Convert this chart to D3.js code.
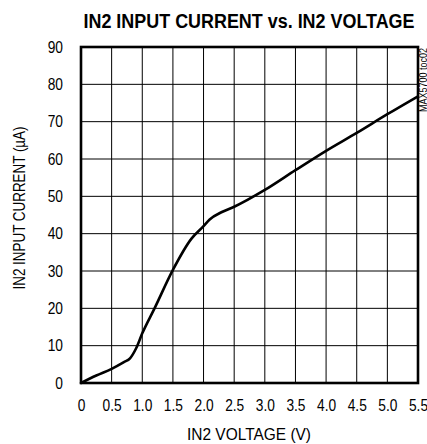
<!DOCTYPE html>
<html><head><meta charset="utf-8">
<script src="https://cdn.jsdelivr.net/npm/d3@7"></script>
<style>
html,body{margin:0;padding:0;background:#fff;}
svg{display:block;}
text{font-family:"Liberation Sans Narrow","Arial Narrow","Liberation Sans",Arial,sans-serif;fill:#000;}
</style></head>
<body>
<script>
const voltage = [0, 0.25, 0.5, 0.7, 0.8, 0.9, 1.0, 1.2, 1.5, 1.8, 2.0, 2.1, 2.3, 2.5, 3.0, 3.5, 4.0, 4.5, 5.0, 5.5];
const current = [0, 2.0, 3.8, 5.6, 6.6, 9.3, 13.3, 20.0, 30.3, 38.6, 42.0, 43.8, 45.8, 47.2, 51.7, 57.0, 62.2, 67.0, 72.0, 76.8];
const xTicks = [0, 0.5, 1.0, 1.5, 2.0, 2.5, 3.0, 3.5, 4.0, 4.5, 5.0, 5.5];
const xTickLabels = ["0", "0.5", "1.0", "1.5", "2.0", "2.5", "3.0", "3.5", "4.0", "4.5", "5.0", "5.5"];
const yTicks = [0, 10, 20, 30, 40, 50, 60, 70, 80, 90];
const title = "IN2 INPUT CURRENT vs. IN2 VOLTAGE";
const xTitle = "IN2 VOLTAGE (V)";
const yTitle = "IN2 INPUT CURRENT (\u00B5A)";
const tocLabel = "MAX5700 toc02";

const W = 427, H = 444;
const m = {left: 81, right: 9, top: 47, bottom: 61};
const svg = d3.select("body").append("svg").attr("width", W).attr("height", H);

const x = d3.scaleLinear().domain([0, 5.5]).range([m.left, W - m.right]);
const y = d3.scaleLinear().domain([0, 90]).range([H - m.bottom, m.top]);

// grid
const g = svg.append("g");
g.selectAll("line.vx").data(xTicks.slice(1, -1)).join("line")
  .attr("x1", d => x(d)).attr("x2", d => x(d))
  .attr("y1", y(0)).attr("y2", y(90))
  .attr("stroke", "#000").attr("stroke-width", 1);
g.selectAll("line.hy").data(yTicks.slice(1, -1)).join("line")
  .attr("x1", x(0)).attr("x2", x(5.5))
  .attr("y1", d => y(d)).attr("y2", d => y(d))
  .attr("stroke", "#000").attr("stroke-width", 1);

// curve
const data = voltage.map((v, i) => [v, current[i]]);
svg.append("path").datum(data)
  .attr("fill", "none").attr("stroke", "#000").attr("stroke-width", 2.6)
  .attr("stroke-linejoin", "round").attr("stroke-linecap", "round")
  .attr("d", d3.line().x(d => x(d[0])).y(d => y(d[1])).curve(d3.curveMonotoneX));

// border
svg.append("rect").attr("x", x(0)).attr("y", y(90))
  .attr("width", x(5.5) - x(0)).attr("height", y(0) - y(90))
  .attr("fill", "none").attr("stroke", "#000").attr("stroke-width", 2.6);

// axes labels
const xAxis = d3.axisBottom(x).tickValues(xTicks).tickSize(0).tickPadding(17)
  .tickFormat((d, i) => xTickLabels[i]);
const xa = svg.append("g").attr("transform", `translate(0,${y(0)})`).call(xAxis);
xa.select(".domain").remove();
xa.selectAll("text").attr("font-size", 16).style("font-family", null)
  .attr("transform", "scale(0.86,1)");

const yAxis = d3.axisLeft(y).tickValues(yTicks).tickSize(0).tickPadding(21)
  .tickFormat(d3.format("d"));
const ya = svg.append("g").attr("transform", `translate(${x(0)},0)`).call(yAxis);
ya.select(".domain").remove();
ya.selectAll("text").attr("font-size", 16).style("font-family", null)
  .attr("transform", "scale(0.86,1)");

svg.append("text").attr("x", 249).attr("y", 28).attr("text-anchor", "middle")
  .attr("font-size", 20).attr("font-weight", "bold")
  .attr("textLength", 331).attr("lengthAdjust", "spacingAndGlyphs").text(title);
svg.append("text").attr("x", 249).attr("y", 440).attr("text-anchor", "middle")
  .attr("font-size", 16.5)
  .attr("textLength", 124).attr("lengthAdjust", "spacingAndGlyphs").text(xTitle);
svg.append("text").attr("transform", `translate(25,${208}) rotate(-90)`)
  .attr("text-anchor", "middle").attr("font-size", 16.5)
  .attr("textLength", 163).attr("lengthAdjust", "spacingAndGlyphs").text(yTitle);
svg.append("text").attr("transform", `translate(427,112) rotate(-90)`)
  .attr("text-anchor", "start").attr("font-size", 10)
  .attr("textLength", 64).attr("lengthAdjust", "spacingAndGlyphs").text(tocLabel);
</script>
</body></html>
